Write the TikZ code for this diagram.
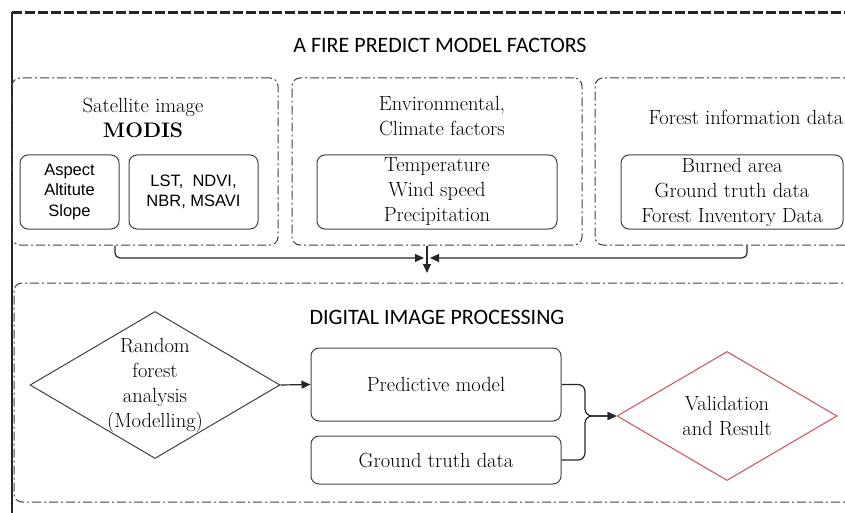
\documentclass[tikz,border=0pt]{standalone}
\usepackage{fontspec}
\newfontfamily\arialfont{Liberation Sans}
\newfontfamily\calfont{Carlito}
\usetikzlibrary{shapes.geometric,arrows.meta,positioning}
\definecolor{valred}{RGB}{200,80,85}

\begin{document}
\begin{tikzpicture}[
				x=1pt, y=-1pt,
				dashdot/.style={dash pattern=on 9pt off 3pt on 2pt off 3pt},
				grp/.style={draw=black!75, line width=1pt, dashdot, rounded corners=8pt, inner sep=0pt},
				box/.style={draw=black!75, line width=1pt, rounded corners=8pt, align=center, inner sep=0pt, font=\rmfamily\fontsize{20.5}{25}\selectfont},
				sbox/.style={box, font=\arialfont\fontsize{16.5}{20.5}\selectfont},
				bigtitle/.style={font=\calfont\fontsize{22}{26}\selectfont},
				grouptext/.style={align=center, font=\rmfamily\fontsize{20.5}{25}\selectfont},
				dmd/.style={diamond, draw=black!75, line width=1pt, aspect=1.7, inner sep=-4pt, align=center, font=\rmfamily\fontsize{20.5}{25}\selectfont},
				arr/.style={line width=1.2pt, black!85, -{Triangle[length=9pt,width=8pt]}}
			]
			\useasboundingbox (0,0) rectangle (845,513);
			\draw[line width=2pt, black!85] (12,12) -- (12,513);
			\draw[line width=3pt, black!85, dash pattern=on 10pt off 3pt] (12,13) -- (845,13);

			\node[bigtitle] (factors) at (440,45) {A FIRE PREDICT MODEL FACTORS};
			\node[grp, minimum width=266pt, minimum height=167pt] (satgrp) at (145,161.5) {};
			\node[grp, minimum width=290pt, minimum height=167pt] (envgrp) at (437,161.5) {};
			\node[grp, minimum width=304pt, minimum height=167pt] (forgrp) at (747,161.5) {};

			\node[grouptext] (sat) at (143,118) {Satellite image\\{\fontsize{21}{25}\selectfont\bfseries MODIS}};
			\node[grouptext] (env) at (442,116) {Environmental,\\Climate factors};
			\node[grouptext] (forinfo) at (746,117) {Forest information data};

			\node[sbox, minimum width=99pt, minimum height=74pt] (aspect) at (69.5,192) {Aspect\\Altitute\\Slope};
			\node[sbox, minimum width=129pt, minimum height=74pt, right=9pt of aspect] (indices) {LST,~ NDVI,\\NBR, MSAVI};
			\node[box, minimum width=240pt, minimum height=74pt] (climate) at (437,192) {Temperature\\Wind speed\\Precipitation};
			\node[box, minimum width=222pt, minimum height=74pt] (forest) at (732,192) {Burned area\\Ground truth data\\Forest Inventory Data};

			\coordinate (join) at (427,258);
			\coordinate (drop) at (427,273);
			\draw[arr, rounded corners=5pt, shorten >=3pt] ([xshift=-30pt]satgrp.south) |- (join);
			\draw[arr, rounded corners=5pt, shorten >=3pt] (forgrp.south) |- (join);
			\draw[arr] (envgrp.south -| join) -- (drop);

			\node[grp, minimum width=866pt, minimum height=219pt] (dipgrp) at (447,392.5) {};
			\node[bigtitle] (dip) at (437,317) {DIGITAL IMAGE PROCESSING};
			\node[dmd, minimum width=250pt, minimum height=147pt] (rf) at (155,385) {Random\\forest\\analysis\\(Modelling)};
			\node[box, minimum width=250pt, minimum height=73pt] (pred) at (436,384.5) {Predictive model};
			\node[box, minimum width=250pt, minimum height=48pt, below=14pt of pred] (gt) {Ground truth data};
			\node[dmd, draw=valred, minimum width=220pt, minimum height=129pt] (val) at (727,416) {Validation\\and Result};

			\coordinate (mrg) at (585,416);
			\draw[arr] (rf.east) -- (pred.west);
			\draw[arr, rounded corners=7pt] (pred.east) -| (mrg) -- (val.west);
			\draw[arr, rounded corners=7pt] (gt.east) -| (mrg) -- (val.west);
		\end{tikzpicture}
\end{document}
